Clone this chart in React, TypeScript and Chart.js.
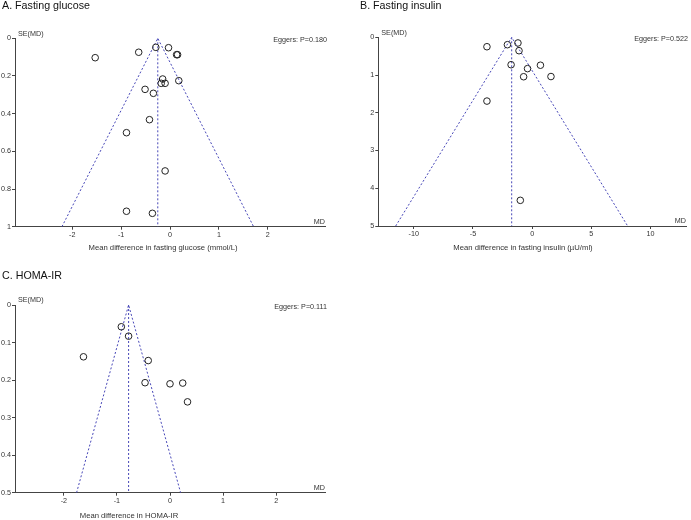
import React, { useEffect, useRef } from "react";
import { Chart, registerables } from "chart.js";

Chart.register(...registerables);

// ---- Data ----
const glucoseMD = [-0.29, -0.03, -0.64, 0.135, 0.155, -1.53, -0.15, -0.18, -0.1, 0.18, -0.51, -0.34, -0.42, -0.89, -0.1, -0.89, -0.36];
const glucoseSE = [0.048, 0.05, 0.074, 0.087, 0.087, 0.103, 0.216, 0.239, 0.239, 0.225, 0.271, 0.292, 0.432, 0.501, 0.704, 0.918, 0.929];
const glucosePooled = -0.25;
const glucoseXTicks = [-2, -1, 0, 1, 2];
const glucoseYTicks = [0, 0.2, 0.4, 0.6, 0.8, 1];

const insulinMD = [-3.82, -2.09, -1.2, -1.11, -1.78, 0.7, -0.39, -0.72, 1.59, -3.82, -1.0];
const insulinSE = [0.25, 0.196, 0.15, 0.355, 0.727, 0.74, 0.83, 1.045, 1.04, 1.69, 4.32];
const insulinPooled = -1.73;
const insulinXTicks = [-10, -5, 0, 5, 10];
const insulinYTicks = [0, 1, 2, 3, 4, 5];

const homaMD = [-0.917, -0.78, -1.63, -0.41, -0.47, 0.0, 0.24, 0.33];
const homaSE = [0.058, 0.083, 0.138, 0.148, 0.207, 0.21, 0.208, 0.258];
const homaPooled = -0.78;
const homaXTicks = [-2, -1, 0, 1, 2];
const homaYTicks = [0, 0.1, 0.2, 0.3, 0.4, 0.5];

const FONT = "'Liberation Sans', Arial, sans-serif";
const AXIS = "#444";
const TEXT = "#333";
const FUNNEL = "#4848b8";

const fmt = (v: number | string) => String(Number(Number(v).toFixed(4)));

type PanelProps = {
  left: number;
  top: number;
  width: number;
  height: number;
  area: { l: number; t: number; r: number; b: number };
  xMin: number;
  xMax: number;
  yMax: number;
  md: number[];
  se: number[];
  pooled: number;
  xTicks: number[];
  yTicks: number[];
  title: string;
  titleX: number;
  titleY: number;
  xTitle: string;
  xTitleX: number;
  xTitleY: number;
  eggers: string;
};

function Panel(p: PanelProps) {
  const ref = useRef<HTMLCanvasElement | null>(null);
  useEffect(() => {
    if (!ref.current) return;
    const points = p.md.map((x, i) => ({ x, y: p.se[i] }));
    const z = 1.96;
    const funnel = [
      { x: p.pooled - z * p.yMax, y: p.yMax },
      { x: p.pooled, y: 0 },
      { x: p.pooled + z * p.yMax, y: p.yMax },
    ];
    const pooledLine = [
      { x: p.pooled, y: 0 },
      { x: p.pooled, y: p.yMax },
    ];
    const textPlugin = {
      id: "texts",
      afterDraw(chart: any) {
        const ctx = chart.ctx as CanvasRenderingContext2D;
        const a = chart.chartArea;
        ctx.save();
        ctx.fillStyle = "#111";
        ctx.font = `10.7px ${FONT}`;
        ctx.textAlign = "left";
        ctx.textBaseline = "middle";
        ctx.fillText(p.title, p.titleX, p.titleY);
        ctx.fillStyle = TEXT;
        ctx.font = `7.2px ${FONT}`;
        ctx.textAlign = "left";
        ctx.fillText("SE(MD)", a.left + 3, a.top - 4.5);
        ctx.textAlign = "right";
        ctx.fillText("MD", a.right, a.bottom - 4.5);
        ctx.fillText(p.eggers, a.right + 2, a.top + 2);
        ctx.font = `7.7px ${FONT}`;
        ctx.textAlign = "center";
        ctx.fillText(p.xTitle, p.xTitleX, p.xTitleY);
        ctx.restore();
      },
    };
    const chart = new Chart(ref.current, {
      type: "scatter",
      data: {
        datasets: [
          {
            data: points,
            pointRadius: 3.3,
            pointBorderWidth: 1,
            borderColor: "#222",
            backgroundColor: "rgba(0,0,0,0)",
            pointBorderColor: "#222",
            pointBackgroundColor: "rgba(0,0,0,0)",
            showLine: false,
          },
          {
            data: funnel,
            showLine: true,
            borderColor: FUNNEL,
            borderWidth: 1,
            borderDash: [2, 2],
            pointRadius: 0,
            fill: false,
          },
          {
            data: pooledLine,
            showLine: true,
            borderColor: FUNNEL,
            borderWidth: 1,
            borderDash: [2, 2],
            pointRadius: 0,
            fill: false,
          },
        ],
      },
      options: {
        responsive: false,
        animation: false,
        devicePixelRatio: 1,
        layout: {
          padding: { left: 0, top: p.area.t, right: p.width - p.area.r, bottom: 0 },
        },
        plugins: { legend: { display: false }, tooltip: { enabled: false } },
        scales: {
          x: {
            type: "linear",
            min: p.xMin,
            max: p.xMax,
            afterBuildTicks: (s: any) => {
              s.ticks = p.xTicks.map((v) => ({ value: v }));
            },
            afterFit: (s: any) => {
              s.height = p.height - p.area.b;
            },
            ticks: { color: TEXT, font: { size: 7.2, family: FONT }, padding: 1, maxRotation: 0, autoSkip: false, callback: fmt },
            grid: { display: true, drawOnChartArea: false, drawTicks: true, tickLength: 3, color: AXIS },
            border: { display: true, color: AXIS, width: 1 },
          },
          y: {
            type: "linear",
            reverse: true,
            min: 0,
            max: p.yMax,
            afterBuildTicks: (s: any) => {
              s.ticks = p.yTicks.map((v) => ({ value: v }));
            },
            afterFit: (s: any) => {
              s.width = p.area.l;
            },
            ticks: { color: TEXT, font: { size: 7.2, family: FONT }, padding: 1, autoSkip: false, callback: fmt },
            grid: { display: true, drawOnChartArea: false, drawTicks: true, tickLength: 3, color: AXIS },
            border: { display: true, color: AXIS, width: 1 },
          },
        },
      },
      plugins: [textPlugin],
    } as any);
    return () => chart.destroy();
  }, []);
  return (
    <canvas
      ref={ref}
      width={p.width}
      height={p.height}
      style={{ position: "absolute", left: p.left, top: p.top, width: p.width, height: p.height }}
    />
  );
}

export default function App() {
  return (
    <div style={{ position: "absolute", left: 0, top: 0, width: 691, height: 520, background: "#fff", overflow: "hidden" }}>
      <Panel
        left={0}
        top={0}
        width={345}
        height={260}
        area={{ l: 15, t: 38.3, r: 325, b: 226.7 }}
        xMin={-3.17}
        xMax={3.17}
        yMax={1}
        md={glucoseMD}
        se={glucoseSE}
        pooled={glucosePooled}
        xTicks={glucoseXTicks}
        yTicks={glucoseYTicks}
        title="A. Fasting glucose"
        titleX={2}
        titleY={6.5}
        xTitle="Mean difference in fasting glucose (mmol/L)"
        xTitleX={163}
        xTitleY={248}
        eggers="Eggers: P=0.180"
      />
      <Panel
        left={345}
        top={0}
        width={346}
        height={260}
        area={{ l: 33.3, t: 37.3, r: 345.5, b: 226 }}
        xMin={-13}
        xMax={13}
        yMax={5}
        md={insulinMD}
        se={insulinSE}
        pooled={insulinPooled}
        xTicks={insulinXTicks}
        yTicks={insulinYTicks}
        title="B. Fasting insulin"
        titleX={15}
        titleY={6.5}
        xTitle="Mean difference in fasting insulin (µU/ml)"
        xTitleX={178}
        xTitleY={248}
        eggers="Eggers: P=0.522"
      />
      <Panel
        left={0}
        top={260}
        width={345}
        height={260}
        area={{ l: 15, t: 45, r: 325, b: 232.7 }}
        xMin={-2.92}
        xMax={2.92}
        yMax={0.5}
        md={homaMD}
        se={homaSE}
        pooled={homaPooled}
        xTicks={homaXTicks}
        yTicks={homaYTicks}
        title="C. HOMA-IR"
        titleX={2}
        titleY={16.5}
        xTitle="Mean difference in HOMA-IR"
        xTitleX={129}
        xTitleY={256}
        eggers="Eggers: P=0.111"
      />
    </div>
  );
}
